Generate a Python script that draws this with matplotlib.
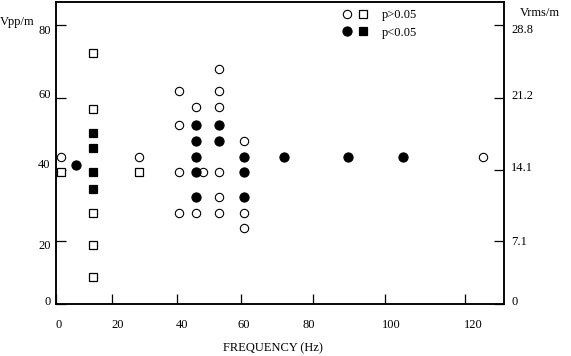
import numpy as np
import matplotlib
matplotlib.use("Agg")
import matplotlib.pyplot as plt
from matplotlib.transforms import ScaledTranslation
from matplotlib.legend_handler import HandlerTuple
from matplotlib.lines import Line2D

plt.rcParams['font.family'] = ['Liberation Serif', 'DejaVu Serif']
plt.rcParams['font.size'] = 9

# ---- data (frequency in Hz, field in Vpp/m) ----
open_circle_x = [1.6, 28.4, 40.8, 40.8, 40.8, 40.8, 45.9, 45.9, 48.3,
                 53.2, 53.2, 53.2, 53.2, 53.2, 53.2, 60.8, 60.8, 60.8, 124.7]
open_circle_y = [43.6, 43.6, 61.8, 52.4, 39.2, 27.8, 57.3, 27.8, 39.2,
                 67.8, 61.8, 57.3, 39.2, 32.4, 27.8, 47.9, 27.8, 23.5, 43.6]

filled_circle_x = [7.2, 45.9, 45.9, 45.9, 45.9, 45.9, 53.2, 53.2,
                   60.8, 60.8, 60.8, 72.0, 89.7, 104.6]
filled_circle_y = [41.3, 52.4, 47.9, 43.6, 39.2, 32.4, 52.4, 47.9,
                   43.6, 39.2, 32.4, 43.6, 43.6, 43.6]

open_square_x = [1.6, 13.0, 13.0, 13.0, 13.0, 13.0, 28.4]
open_square_y = [39.2, 72.2, 56.8, 27.8, 18.7, 8.7, 39.2]

filled_square_x = [13.0, 13.0, 13.0, 13.0]
filled_square_y = [50.2, 45.9, 39.2, 34.6]

x_ticks = [0, 20, 40, 60, 80, 100, 120]
x_tick_labels = ['0', '20', '40', '60', '80', '100', '120']
y_ticks = [0, 20, 40, 60, 80]
y_tick_labels = ['0', '20', '40', '60', '80']
y_right_labels = ['0', '7.1', '14.1', '21.2', '28.8']
legend_labels = ['p>0.05', 'p<0.05']

# ---- axis calibration of the original (hand-drawn, slightly uneven) scales ----
W, H = 571, 356
xk_val = [0, 20, 40, 60, 80, 100, 120, 130]
xk_pix = [56.3, 112.3, 176.7, 240.7, 312.7, 385.0, 464.7, 504.3]
yk_val = [0, 20, 40, 60, 80, 86.6]
yk_pix = [304.3, 240.7, 169.5, 97.5, 25.3, 1.5]

def xf(v):
    return np.interp(v, xk_val, xk_pix)
def xi(p):
    return np.interp(p, xk_pix, xk_val)
neg_yk = [-p for p in yk_pix]
def yf(v):
    return np.interp(v, yk_val, neg_yk)
def yi(p):
    return np.interp(p, neg_yk, yk_val)

fig = plt.figure(figsize=(W / 100, H / 100), dpi=100)
left, right = xk_pix[0] / W, xk_pix[-1] / W
bottom, top = 1 - yk_pix[0] / H, 1 - yk_pix[-1] / H
ax = fig.add_axes([left, bottom, right - left, top - bottom])
ax.set_xscale('function', functions=(xf, xi))
ax.set_yscale('function', functions=(yf, yi))
ax.set_xlim(xk_val[0], xk_val[-1])
ax.set_ylim(yk_val[0], yk_val[-1])

ms = 6.0
oc, = ax.plot(open_circle_x, open_circle_y, 'o', ms=ms, mfc='white', mec='black', mew=0.8, ls='none')
fc, = ax.plot(filled_circle_x, filled_circle_y, 'o', ms=ms + 0.6, mfc='black', mec='black', mew=0.8, ls='none')
osq, = ax.plot(open_square_x, open_square_y, 's', ms=ms, mfc='white', mec='black', mew=0.9, ls='none')
fsq, = ax.plot(filled_square_x, filled_square_y, 's', ms=ms, mfc='black', mec='black', mew=0.9, ls='none')

for s in ax.spines.values():
    s.set_linewidth(1.1)
ax.set_xticks(x_ticks)
ax.set_xticklabels(x_tick_labels)
ax.set_yticks(y_ticks)
ax.set_yticklabels(y_tick_labels)
ax.tick_params(axis='x', direction='in', length=7, width=0.9, pad=10.5)
ax.tick_params(axis='y', direction='in', length=7, width=0.9, pad=4)
ax.xaxis.set_minor_locator(matplotlib.ticker.NullLocator())
ax.yaxis.set_minor_locator(matplotlib.ticker.NullLocator())

ax2 = ax.twinx()
ax2.set_yscale('function', functions=(yf, yi))
ax2.set_ylim(yk_val[0], yk_val[-1])
ax2.set_yticks(y_ticks)
ax2.set_yticklabels(y_right_labels)
ax2.yaxis.set_minor_locator(matplotlib.ticker.NullLocator())
ax2.tick_params(axis='y', direction='in', length=7, width=0.9, pad=5)
for s in ax2.spines.values():
    s.set_linewidth(1.1)

# small per-label shifts to mimic the original placement (pixels)
x_shift = [2.7, 5, 5, 3.3, -4.4, 6.7, 8.3]
yl_shift = [3.5, -4.0, 5.5, 4.0, -3.7]
yr_shift = [3.5, 0, 2.6, 3.3, -3.5]
for lab, dx in zip(ax.get_xticklabels(), x_shift):
    lab.set_transform(lab.get_transform() + ScaledTranslation(dx / 100, 0, fig.dpi_scale_trans))
for lab, dy in zip(ax.get_yticklabels(), yl_shift):
    lab.set_transform(lab.get_transform() + ScaledTranslation(0, dy / 100, fig.dpi_scale_trans))
for lab, dy in zip(ax2.get_yticklabels(), yr_shift):
    lab.set_transform(lab.get_transform() + ScaledTranslation(0, dy / 100, fig.dpi_scale_trans))

fig.text(17 / W, 1 - 22 / H, 'Vpp/m', ha='center', va='center')
fig.text(540 / W, 1 - 13 / H, 'Vrms/m', ha='center', va='center')
fig.text(273 / W, 1 - 348 / H, 'FREQUENCY (Hz)', ha='center', va='center')

h1 = (Line2D([], [], marker='o', ls='none', ms=ms, mfc='white', mec='black', mew=0.8),
      Line2D([], [], marker='s', ls='none', ms=ms, mfc='white', mec='black', mew=0.9))
h2 = (Line2D([], [], marker='o', ls='none', ms=ms + 0.6, mfc='black', mec='black', mew=0.8),
      Line2D([], [], marker='s', ls='none', ms=ms, mfc='black', mec='black', mew=0.9))
ax.legend([h1, h2], legend_labels, handler_map={tuple: HandlerTuple(ndivide=None, pad=0)},
          loc='upper left', bbox_to_anchor=(338.4 / W, 1 - 9 / H), bbox_transform=fig.transFigure,
          frameon=False, borderpad=0, borderaxespad=0, handlelength=2.66, handletextpad=0.8,
          labelspacing=0.45, fontsize=9)

fig.savefig('out.png', dpi=100)
